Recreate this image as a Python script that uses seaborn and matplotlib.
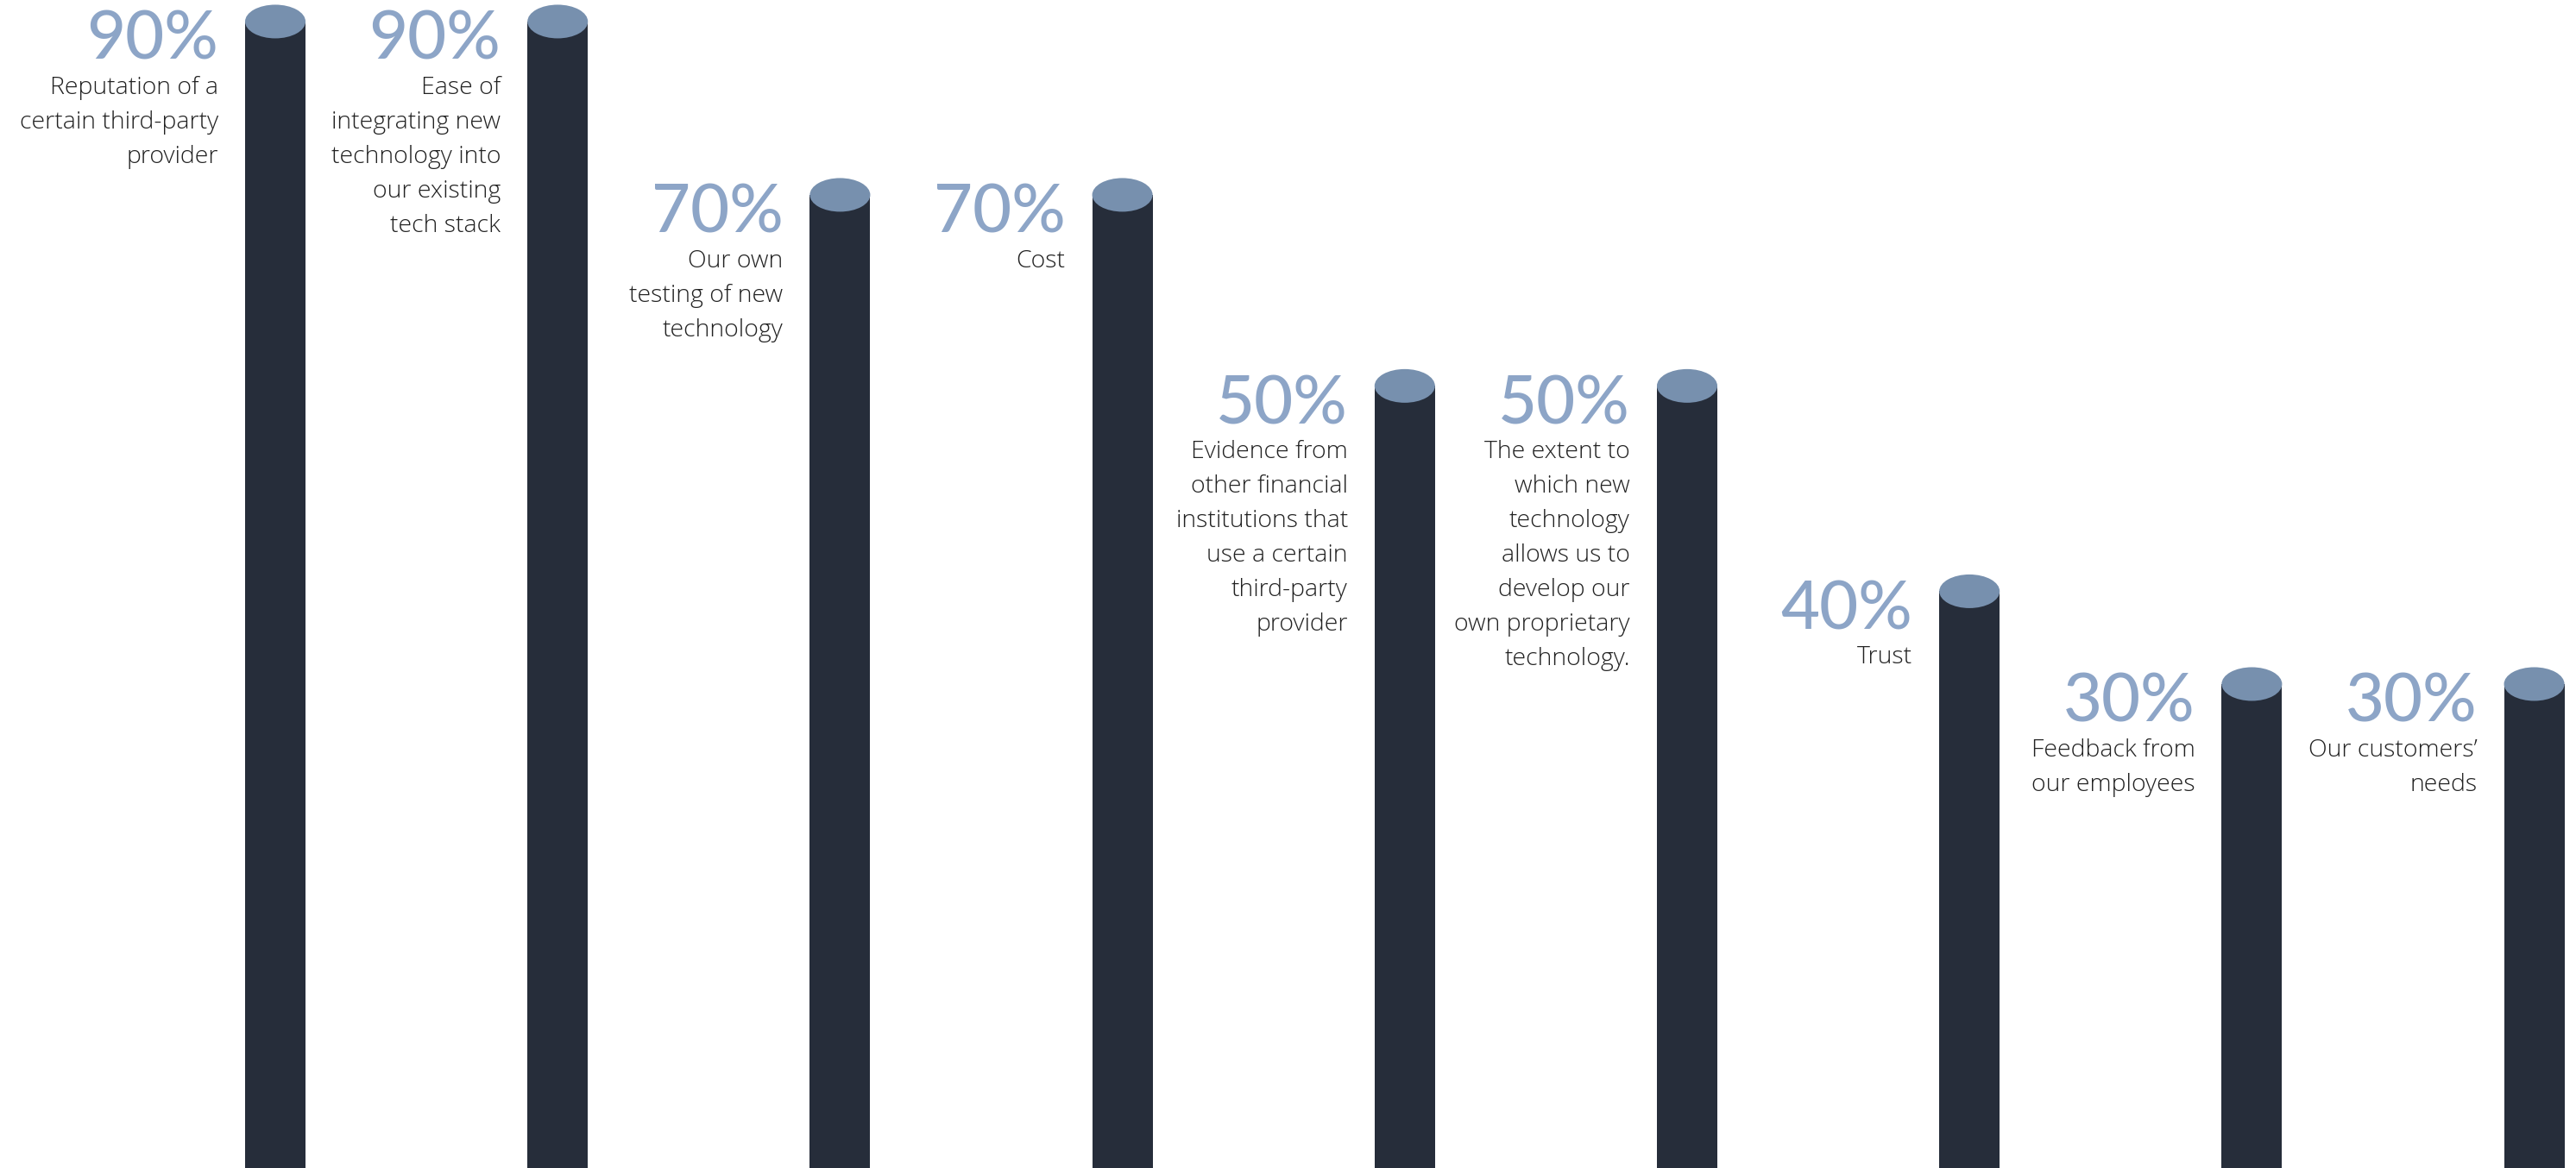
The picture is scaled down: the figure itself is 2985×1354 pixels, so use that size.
import matplotlib
matplotlib.use("Agg")
import matplotlib.pyplot as plt
from matplotlib.patches import Ellipse
import seaborn as sns
import pandas as pd

# ---- data ----
categories = ["Reputation", "Ease", "Testing", "Cost", "Evidence",
              "Proprietary", "Trust", "Employees", "Customers"]
pct_labels = [90, 90, 70, 70, 50, 50, 40, 30, 30]
# bar lengths as drawn in the picture (the graphic is not strictly to scale)
bar_height = [90, 90, 74.3, 74.3, 57.0, 57.0, 38.4, 30, 30]
descriptions = [
    "Reputation of a\ncertain third-party\nprovider",
    "Ease of\nintegrating new\ntechnology into\nour existing\ntech stack",
    "Our own\ntesting of new\ntechnology",
    "Cost",
    "Evidence from\nother financial\ninstitutions that\nuse a certain\nthird-party\nprovider",
    "The extent to\nwhich new\ntechnology\nallows us to\ndevelop our\nown proprietary\ntechnology.",
    "Trust",
    "Feedback from\nour employees",
    "Our customers\u2019\nneeds",
]

BAR = "#262d3a"
CAP = "#7790ae"
NUM = "#8da5c7"
TXT = "#222222"

df = pd.DataFrame({"cat": categories, "h": bar_height})

sns.set_theme(style="white")
plt.rcParams["font.family"] = ["Open Sans", "DejaVu Sans"]

fig = plt.figure(figsize=(29.85, 13.54), dpi=100)
ax = fig.add_axes([0, 0, 1, 1])
YMIN, YMAX = -13.83, 91.95
sns.barplot(data=df, x="cat", y="h", order=categories, color=BAR,
            saturation=1, width=0.214, linewidth=0, ax=ax)
ax.set_xlim(-0.975, 8.148)
ax.set_ylim(YMIN, YMAX)
ax.axis("off")

# extend bars to the bottom edge and add elliptical caps
px_per_unit = 1354 / (YMAX - YMIN)
cap_h = 39 / px_per_unit
for p in list(ax.patches):
    top = p.get_y() + p.get_height()
    p.set_y(YMIN - 1)
    p.set_height(top - (YMIN - 1))
    cx = p.get_x() + p.get_width() / 2
    ax.add_patch(Ellipse((cx, top), p.get_width(), cap_h, facecolor=CAP,
                         edgecolor="none", zorder=5))

for i, (pct, h, desc) in enumerate(zip(pct_labels, bar_height, descriptions)):
    ax.annotate(f"{pct}%", xy=(i, h), xytext=(-66, -44), textcoords="offset pixels",
                ha="right", va="baseline", fontsize=56, color=NUM,
                fontweight="medium", family=["Lato", "DejaVu Sans"])
    for k, line in enumerate(desc.split("\n")):
        ax.annotate(line, xy=(i, h), xytext=(-66, -84 - 40 * k),
                    textcoords="offset pixels", ha="right", va="baseline",
                    fontsize=20.5, color=TXT, fontweight="light")

fig.savefig("out.png", dpi=100, facecolor="white")
